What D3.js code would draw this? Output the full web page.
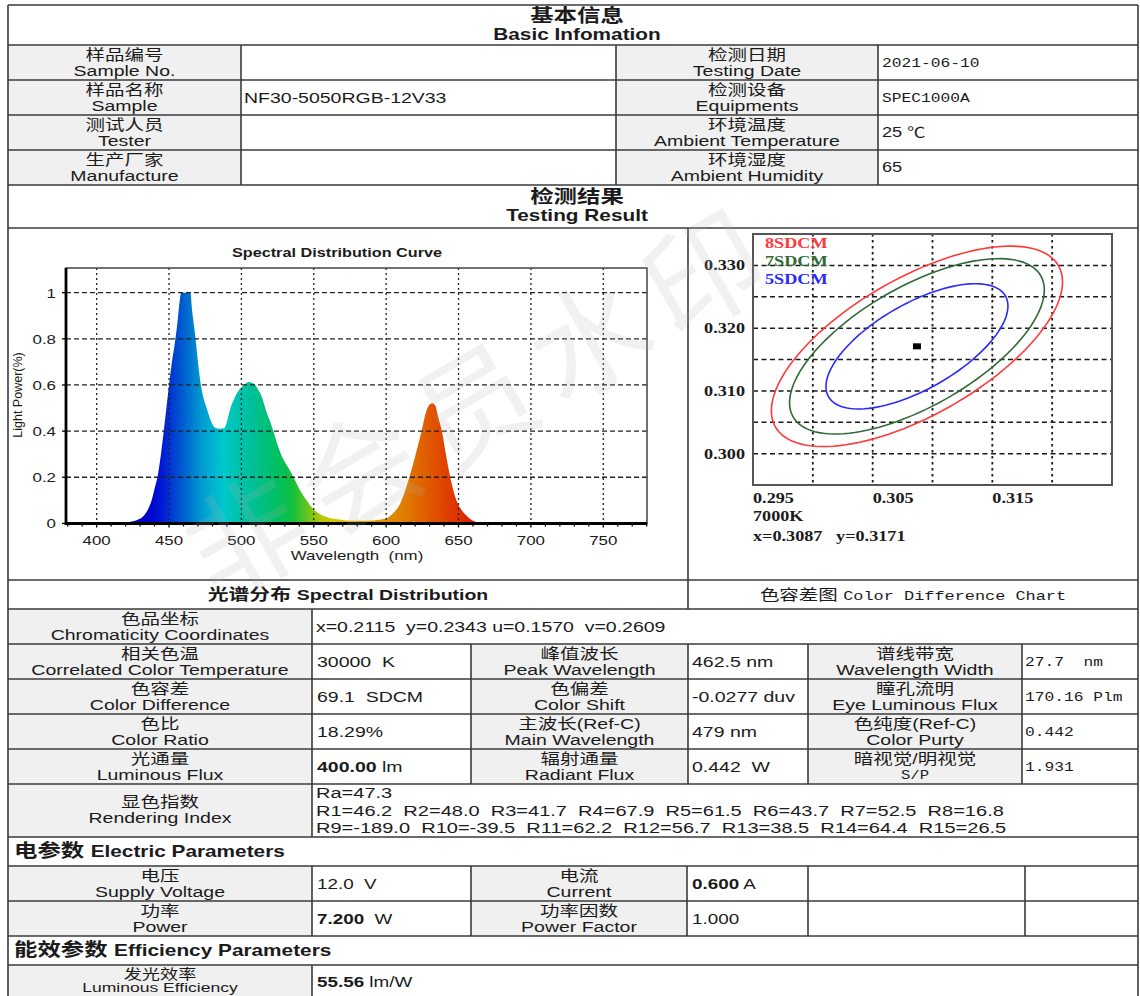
<!DOCTYPE html>
<html><head><meta charset="utf-8">
<script src="https://cdn.jsdelivr.net/npm/d3@7"></script>
<style>body{margin:0;background:#fff}svg{display:block}text{white-space:pre}</style>
</head><body>
<svg id="c" width="1140" height="996"></svg>
<script>
// ---------------- DATA ----------------
const basicLeftLabels = [["样品编号","Sample No."],["样品名称","Sample"],["测试人员","Tester"],["生产厂家","Manufacture"]];
const basicLeftValues = ["","NF30-5050RGB-12V33","",""];
const basicRightLabels = [["检测日期","Testing Date"],["检测设备","Equipments"],["环境温度","Ambient Temperature"],["环境湿度","Ambient Humidity"]];
const basicRightValues = ["2021-06-10","SPEC1000A","25 ℃","65"];

const wavelengths = [380,410,420,424,428,432,435,438,440,442,444,446,448,450,452,454,456,457.5,458.3,464.7,466,468,470,472,474,476,478,480,482,485,488,490,492,495,498,502,505,507,509.6,512,514,516,518,520,522,525,528,532,536,540,545,550,555,560,565,570,575,580,585,590,595,600,605,610,613,616,620,624.5,627,630,632,634,636,638.5,641,644.3,647,650,653,657,660,664,668,780];
const lightPower  = [0,0,0.003,0.008,0.015,0.03,0.055,0.10,0.15,0.20,0.28,0.38,0.49,0.60,0.70,0.78,0.88,0.97,1.0,1.0,0.92,0.82,0.70,0.60,0.54,0.50,0.46,0.43,0.415,0.41,0.412,0.44,0.49,0.54,0.575,0.60,0.613,0.61,0.60,0.575,0.55,0.51,0.47,0.44,0.40,0.34,0.29,0.245,0.20,0.15,0.10,0.06,0.038,0.026,0.019,0.015,0.012,0.011,0.011,0.013,0.016,0.022,0.045,0.09,0.14,0.20,0.29,0.40,0.47,0.515,0.521,0.51,0.46,0.40,0.31,0.20,0.13,0.08,0.05,0.025,0.012,0.003,0,0];
const specXTicks = [400,450,500,550,600,650,700,750];
const specYTicks = [0,0.2,0.4,0.6,0.8,1];
const specYTickLabels = ["0","0.2","0.4","0.6","0.8","1"];

const sdcmSteps = [8,7,5];
const sdcmLabels = ["8SDCM","7SDCM","5SDCM"];
const ellipseCenter = [0.3087,0.3171];
const ellipseAxesPerStep = [0.002296,0.001013];
const ellipseAngleDeg = 56.6;
const cdXGrid = [0.300,0.305,0.310,0.315,0.320];
const cdYGrid = [0.300,0.305,0.310,0.315,0.320,0.325,0.330];
const cdXTickLabels = [0.295,0.305,0.315];
const cdYTickLabels = [0.300,0.310,0.320,0.330];
const cctLabel = "7000K";
const centerText = "x=0.3087   y=0.3171";

const chromaticity = "x=0.2115  y=0.2343 u=0.1570  v=0.2609";
const spectralLabels1 = [["相关色温","Correlated Color Temperature"],["色容差","Color Difference"],["色比","Color Ratio"],["光通量","Luminous Flux"]];
const spectralValues1 = [[{t:"30000  K"}],[{t:"69.1  SDCM"}],[{t:"18.29%"}],[{t:"400.00",b:1},{t:" lm"}]];
const spectralLabels2 = [["峰值波长","Peak Wavelength"],["色偏差","Color Shift"],["主波长(Ref-C)","Main Wavelength"],["辐射通量","Radiant Flux"]];
const spectralValues2 = ["462.5 nm","-0.0277 duv","479 nm","0.442  W"];
const spectralLabels3 = [["谱线带宽","Wavelength Width"],["瞳孔流明","Eye Luminous Flux"],["色纯度(Ref-C)","Color Purty"],["暗视觉/明视觉","S/P"]];
const spectralValues3 = ["27.7  nm","170.16 Plm","0.442","1.931"];
const renderingLines = ["Ra=47.3",
  "R1=46.2  R2=48.0  R3=41.7  R4=67.9  R5=61.5  R6=43.7  R7=52.5  R8=16.8",
  "R9=-189.0  R10=-39.5  R11=62.2  R12=56.7  R13=38.5  R14=64.4  R15=26.5"];

const electricLabels1 = [["电压","Supply Voltage"],["功率","Power"]];
const electricValues1 = [[{t:"12.0  V"}],[{t:"7.200",b:1},{t:"  W"}]];
const electricLabels2 = [["电流","Current"],["功率因数","Power Factor"]];
const electricValues2 = [[{t:"0.600",b:1},{t:" A"}],[{t:"1.000"}]];
const efficiencyLabel = ["发光效率","Luminous Efficiency"];
const efficiencyValue = [{t:"55.56",b:1},{t:" lm/W"}];

// ---------------- HELPERS ----------------
const svg = d3.select("#c");
const SANS = "'Liberation Sans',Arial,'Noto Sans CJK SC',sans-serif";
const MONO = "'Liberation Mono','Courier New','Noto Sans CJK SC',monospace";
const SERIF = "'Liberation Serif','Times New Roman','Noto Sans CJK SC',serif";
const SX = 1.3;
function T(g, x, y, content, o = {}) {
  const t = g.append("text")
    .attr("transform", `translate(${x},${y}) scale(${o.sx ?? SX},1)`)
    .attr("xml:space", "preserve")
    .attr("text-anchor", o.anchor || "start")
    .attr("font-family", o.font || SANS)
    .attr("font-size", o.size || 15)
    .attr("font-weight", o.weight || "normal")
    .attr("fill", o.fill || "#1b1b1b");
  if (typeof content === "string") t.text(content);
  else content.forEach(s => {
    const ts = t.append("tspan").text(s.t);
    if (s.b) ts.attr("font-weight", "bold");
    if (s.f) ts.attr("font-family", s.f);
    if (s.s) ts.attr("font-size", s.s);
  });
  return t;
}
function label(g, cx, top, pair, o = {}) {
  T(g, cx, top + 15, pair[0], {anchor: "middle", size: 15});
  T(g, cx, top + 31, pair[1], Object.assign({anchor: "middle", size: 15}, o));
}

const gFill = svg.append("g");
const gChart = svg.append("g");
const gText = svg.append("g");
const gLine = svg.append("g");
const gWm = svg.append("g");

// ---------------- TABLE BACKGROUNDS ----------------
const GRAY = "#f0f0f0";
function fillRect(x0, y0, x1, y1) { gFill.append("rect").attr("x", x0).attr("y", y0).attr("width", x1 - x0).attr("height", y1 - y0).attr("fill", GRAY); }
fillRect(8, 45, 241, 185); fillRect(616, 45, 878, 185);
fillRect(8, 609, 312, 837); fillRect(471, 644, 688, 784); fillRect(808, 644, 1022, 784);
fillRect(8, 866, 312, 936); fillRect(471, 866, 687, 936);
fillRect(8, 965, 312, 996);

// ---------------- TABLE LINES ----------------
function hl(y, x0 = 8, x1 = 1138) { gLine.append("line").attr("x1", x0).attr("x2", x1).attr("y1", y).attr("y2", y); }
function vl(x, y0, y1) { gLine.append("line").attr("x1", x).attr("x2", x).attr("y1", y0).attr("y2", y1); }
[5,45,80,115,150,185,228,580,609,644,679,714,749,784,837,866,901,936,965].forEach(y => hl(y));
vl(8, 5, 996); vl(1138, 5, 996);
[241,616,878].forEach(x => vl(x, 45, 185));
vl(688, 228, 609);
vl(312, 609, 837);
[471,688,808,1022].forEach(x => vl(x, 644, 784));
[312,471,687,808,1025].forEach(x => vl(x, 866, 936));
vl(312, 965, 996);
gLine.selectAll("line").attr("stroke", "#3a3a3a").attr("stroke-width", 1.6);

// ---------------- BASIC INFO ----------------
T(gText, 577, 22, "基本信息", {anchor: "middle", size: 18, weight: "bold"});
T(gText, 577, 40, "Basic Infomation", {anchor: "middle", size: 16, weight: "bold"});
basicLeftLabels.forEach((p, i) => {
  const top = 45 + i * 35;
  label(gText, 124.5, top, p);
  T(gText, 244, top + 23, basicLeftValues[i], {size: 15});
  label(gText, 747, top, basicRightLabels[i]);
  const isMono = i < 2;
  T(gText, 882, top + 22, basicRightValues[i], isMono ? {font: MONO, size: 12.5} : {size: 14});
});
T(gText, 577, 203, "检测结果", {anchor: "middle", size: 18, weight: "bold"});
T(gText, 577, 221, "Testing Result", {anchor: "middle", size: 16, weight: "bold"});

// ---------------- SPECTRAL CHART ----------------
const xs = d3.scaleLinear().domain([380, 780]).range([67.7, 646.7]);
const ys = d3.scaleLinear().domain([0, 1.1]).range([523.4, 269.6]);
const PL = 66, PR = 647, PT = 268, PB = 523.5;
const defs = svg.append("defs");
const grad = defs.append("linearGradient").attr("id", "spec").attr("gradientUnits", "userSpaceOnUse")
  .attr("x1", xs(380)).attr("x2", xs(780)).attr("y1", 0).attr("y2", 0);
const stops = [[380,"#3000a0"],[420,"#1a00b0"],[435,"#0000c8"],[445,"#0018d8"],[455,"#0048d0"],[462,"#0068d0"],[470,"#0090d0"],[480,"#00b4d0"],[488,"#00c8cc"],[495,"#00c4b4"],[505,"#00c0a0"],[515,"#00c080"],[525,"#00c060"],[535,"#10c040"],[545,"#60c420"],[555,"#b0c808"],[565,"#d8c400"],[580,"#e0b000"],[595,"#e09800"],[610,"#e08000"],[620,"#e06c00"],[630,"#e05800"],[640,"#e04400"],[650,"#e03000"],[660,"#d82000"],[700,"#c00000"],[780,"#b00000"]];
stops.forEach(s => grad.append("stop").attr("offset", (s[0] - 380) / 400).attr("stop-color", s[1]));
defs.append("clipPath").attr("id", "pc").append("rect").attr("x", PL).attr("y", PT).attr("width", PR - PL).attr("height", PB - PT);

const specData = wavelengths.map((w, i) => [w, lightPower[i]]);
const area = d3.area().x(d => xs(d[0])).y0(ys(0)).y1(d => ys(d[1])).curve(d3.curveMonotoneX);
gChart.append("path").datum(specData).attr("d", area).attr("fill", "url(#spec)").attr("clip-path", "url(#pc)");

// grid
gChart.selectAll(".vg").data(specXTicks).enter().append("line")
  .attr("x1", d => xs(d)).attr("x2", d => xs(d)).attr("y1", PT).attr("y2", PB)
  .attr("stroke", "#222").attr("stroke-width", 1.3).attr("stroke-dasharray", "2,3");
gChart.selectAll(".hg").data(specYTicks.filter(d => d > 0)).enter().append("line")
  .attr("x1", PL).attr("x2", PR).attr("y1", d => ys(d)).attr("y2", d => ys(d))
  .attr("stroke", "#222").attr("stroke-width", 1.3).attr("stroke-dasharray", "5,3");
// frame
gChart.append("rect").attr("x", PL).attr("y", PT).attr("width", PR - PL).attr("height", PB - PT)
  .attr("fill", "none").attr("stroke", "#444").attr("stroke-width", 1.5);
gChart.append("path").attr("d", `M${PL},${PT}V${PB}H${PR}`).attr("fill", "none").attr("stroke", "#000").attr("stroke-width", 2.8);
// minor ticks
gChart.selectAll(".mt").data(d3.range(380, 781, 10)).enter().append("line")
  .attr("x1", d => xs(d)).attr("x2", d => xs(d)).attr("y1", PB).attr("y2", d => PB + (d % 50 === 0 ? 4 : 3))
  .attr("stroke", "#000").attr("stroke-width", 1.3);
gChart.selectAll(".yt").data(specYTicks).enter().append("line")
  .attr("x1", PL - 4).attr("x2", PL).attr("y1", d => ys(d)).attr("y2", d => ys(d)).attr("stroke", "#000").attr("stroke-width", 1.3);

specXTicks.forEach(v => T(gChart, xs(v), 545, String(v), {anchor: "middle", size: 13}));
specYTicks.forEach((v, i) => T(gChart, 56, ys(v) + 5, specYTickLabels[i], {anchor: "end", size: 13}));
T(gChart, 337, 257, "Spectral Distribution Curve", {anchor: "middle", size: 12.5, weight: "bold"});
T(gChart, 357, 560, "Wavelength  (nm)", {anchor: "middle", size: 13});
gChart.append("text").attr("transform", "translate(22,395) rotate(-90)")
  .attr("text-anchor", "middle").attr("font-family", SANS).attr("font-size", 12.5).attr("fill", "#1b1b1b").text("Light Power(%)");

// ---------------- COLOR DIFFERENCE CHART ----------------
const cxs = d3.scaleLinear().domain([0.295, 0.325]).range([753, 1112]);
const cys = d3.scaleLinear().domain([0.295, 0.335]).range([485, 234]);
gChart.selectAll(".cvg").data(cdXGrid).enter().append("line")
  .attr("x1", d => cxs(d)).attr("x2", d => cxs(d)).attr("y1", 234).attr("y2", 485)
  .attr("stroke", "#1a1a1a").attr("stroke-width", 1.8).attr("stroke-dasharray", "2.5,3.5");
gChart.selectAll(".chg").data(cdYGrid).enter().append("line")
  .attr("x1", 753).attr("x2", 1112).attr("y1", d => cys(d)).attr("y2", d => cys(d))
  .attr("stroke", "#1a1a1a").attr("stroke-width", 1.5).attr("stroke-dasharray", "5,3.5");
gChart.append("rect").attr("x", 753).attr("y", 234).attr("width", 359).attr("height", 251)
  .attr("fill", "none").attr("stroke", "#555").attr("stroke-width", 2);

const sdcmColors = ["#ff3a3a", "#2f6b36", "#2a2aff"];
const th = ellipseAngleDeg * Math.PI / 180;
const eLine = d3.line().x(d => cxs(d[0])).y(d => cys(d[1])).curve(d3.curveLinearClosed);
sdcmSteps.forEach((k, i) => {
  const a = ellipseAxesPerStep[0] * k, b = ellipseAxesPerStep[1] * k;
  const pts = d3.range(0, 360, 3).map(deg => {
    const t = deg * Math.PI / 180;
    return [ellipseCenter[0] + a * Math.cos(th) * Math.cos(t) - b * Math.sin(th) * Math.sin(t),
            ellipseCenter[1] + a * Math.sin(th) * Math.cos(t) + b * Math.cos(th) * Math.sin(t)];
  });
  gChart.append("path").attr("d", eLine(pts)).attr("fill", "none").attr("stroke", sdcmColors[i]).attr("stroke-width", 1.6);
  T(gChart, 765, 248 + i * 18, sdcmLabels[i], {font: SERIF, size: 14, weight: "bold", fill: sdcmColors[i]});
});
gChart.append("rect").attr("x", cxs(ellipseCenter[0]) - 4).attr("y", cys(ellipseCenter[1]) - 3).attr("width", 8).attr("height", 6).attr("fill", "#000");

cdYTickLabels.forEach(v => T(gChart, 745, cys(v) + 5, v.toFixed(3), {anchor: "end", font: SERIF, size: 14, weight: "bold"}));
cdXTickLabels.forEach(v => T(gChart, cxs(v), 503, v.toFixed(3), {font: SERIF, size: 14, weight: "bold"}));
T(gChart, 753, 521, cctLabel, {font: SERIF, size: 14, weight: "bold"});
T(gChart, 753, 541, centerText, {font: SERIF, size: 14, weight: "bold"});

// ---------------- SPECTRAL DISTRIBUTION TABLE ----------------
T(gText, 348, 600, [{t: "光谱分布 ", s: 16}, {t: "Spectral Distribution"}], {anchor: "middle", size: 15, weight: "bold"});
T(gText, 913, 600, [{t: "色容差图 ", f: SANS, s: 15}, {t: "Color Difference Chart", f: MONO}], {anchor: "middle", font: MONO, size: 13});
label(gText, 160, 609, ["色品坐标", "Chromaticity Coordinates"]);
T(gText, 316, 632, chromaticity, {size: 15});
spectralLabels1.forEach((p, i) => {
  const top = 644 + i * 35;
  label(gText, 160, top, p);
  T(gText, 317, top + 23, spectralValues1[i], {size: 15});
  label(gText, 579.5, top, spectralLabels2[i]);
  T(gText, 692, top + 23, spectralValues2[i], {size: 15});
  if (i === 3) {
    T(gText, 915, top + 15, spectralLabels3[i][0], {anchor: "middle", size: 15});
    T(gText, 915, top + 30, spectralLabels3[i][1], {anchor: "middle", size: 12, font: MONO});
  } else label(gText, 915, top, spectralLabels3[i]);
  T(gText, 1025, top + 22, spectralValues3[i], {font: MONO, size: 12.5});
});
label(gText, 160, 792, ["显色指数", "Rendering Index"]);
renderingLines.forEach((s, i) => T(gText, 316, 798 + i * 17.5, s, {size: 15.4}));

// ---------------- ELECTRIC ----------------
T(gText, 14, 857, [{t: "电参数 ", s: 18}, {t: "Electric Parameters"}], {size: 16, weight: "bold"});
electricLabels1.forEach((p, i) => {
  const top = 866 + i * 35;
  label(gText, 160, top, p);
  T(gText, 317, top + 23, electricValues1[i], {size: 14.5});
  label(gText, 579, top, electricLabels2[i]);
  T(gText, 692, top + 23, electricValues2[i], {size: 14.5});
});
T(gText, 14, 956, [{t: "能效参数 ", s: 18}, {t: "Efficiency Parameters"}], {size: 16, weight: "bold"});
T(gText, 160, 979, efficiencyLabel[0], {anchor: "middle", size: 14});
T(gText, 160, 992, efficiencyLabel[1], {anchor: "middle", size: 13.5});
T(gText, 317, 987, efficiencyValue, {size: 14.5});

// ---------------- WATERMARK ----------------
gWm.append("text").attr("transform", "translate(487,412) rotate(-30)")
  .attr("text-anchor", "middle").attr("dominant-baseline", "middle")
  .attr("font-family", "'Noto Sans CJK SC',sans-serif").attr("font-size", 118)
  .attr("letter-spacing", 14).attr("fill", "#b0b0b0").attr("opacity", 0.17).text("非会员水印");
</script>
</body></html>
